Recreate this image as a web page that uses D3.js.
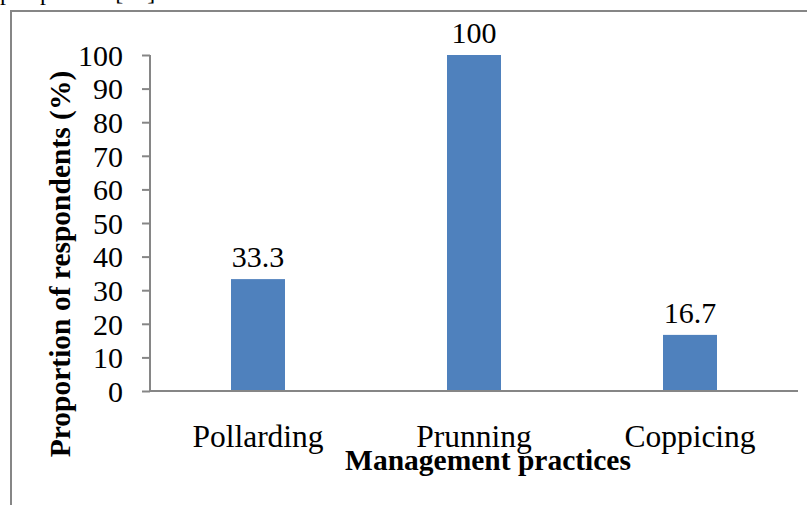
<!DOCTYPE html>
<html>
<head>
<meta charset="utf-8">
<script src="https://cdn.jsdelivr.net/npm/d3@7"></script>
<style>
  html, body { margin: 0; padding: 0; background: #fff; }
  svg { display: block; }
  text { font-family: "Liberation Serif", "Times New Roman", serif; fill: #000; }
</style>
</head>
<body>
<script>
// Management practices and share of respondents using each (%)
const categories = ["Pollarding", "Prunning", "Coppicing"];
const values = [33.3, 100, 16.7];
const valueLabels = ["33.3", "100", "16.7"];
const yTicks = [0, 10, 20, 30, 40, 50, 60, 70, 80, 90, 100];
const xTitle = "Management practices";
const yTitle = "Proportion of respondents (%)";

const W = 807, H = 505;
const plot = { left: 150, right: 798, top: 55, bottom: 391 };
const axisColor = "#868686";
const barColor = "#4f81bd";

const svg = d3.select("body").append("svg")
  .attr("width", W).attr("height", H);

// Caption line from the surrounding text, mostly cut off at the top edge
svg.append("text")
  .attr("x", 0).attr("y", 0)
  .style("font-size", "24px")
  .text("perspective [16].");

// Chart frame
svg.append("path")
  .attr("d", `M11,${H + 5} L11,11 L${W + 5},11`)
  .attr("fill", "none")
  .attr("stroke", axisColor)
  .attr("stroke-width", 2);

const x = d3.scaleBand()
  .domain(categories)
  .range([plot.left, plot.right])
  .paddingInner(0)
  .paddingOuter(0);

const y = d3.scaleLinear()
  .domain([0, 100])
  .range([plot.bottom, plot.top]);

const barW = x.bandwidth() * 0.25;

// Bars
svg.selectAll("rect.bar")
  .data(categories)
  .enter().append("rect")
  .attr("class", "bar")
  .attr("x", d => x(d) + (x.bandwidth() - barW) / 2)
  .attr("y", (d, i) => y(values[i]))
  .attr("width", barW)
  .attr("height", (d, i) => y(0) - y(values[i]))
  .attr("fill", barColor);

// Y axis
const yAxis = d3.axisLeft(y)
  .tickValues(yTicks)
  .tickSize(8)
  .tickPadding(19)
  .tickFormat(d3.format("d"));

const yG = svg.append("g")
  .attr("transform", `translate(${plot.left},0)`)
  .call(yAxis);
yG.select(".domain").attr("stroke", axisColor).attr("stroke-width", 2)
  .attr("d", `M0,${plot.top}V${plot.bottom}`);
yG.selectAll(".tick line").attr("stroke", axisColor).attr("stroke-width", 2);
yG.selectAll(".tick text")
  .style("font-family", "'Liberation Serif', 'Times New Roman', serif")
  .style("font-size", "30px")
  .attr("fill", "#000")
  .attr("dy", "0.34em");

// X axis
const xAxis = d3.axisBottom(x).tickSize(0).tickPadding(0);
const xG = svg.append("g")
  .attr("transform", `translate(0,${plot.bottom})`)
  .call(xAxis);
xG.select(".domain").attr("stroke", axisColor).attr("stroke-width", 2)
  .attr("d", `M${plot.left},0H${plot.right}`);
xG.selectAll(".tick text")
  .style("font-family", "'Liberation Serif', 'Times New Roman', serif")
  .style("font-size", "31.5px")
  .attr("fill", "#000")
  .attr("dy", null)
  .attr("y", 56);

// Value labels
svg.selectAll("text.val")
  .data(categories)
  .enter().append("text")
  .attr("class", "val")
  .attr("x", d => x(d) + x.bandwidth() / 2)
  .attr("y", (d, i) => y(values[i]) - 12)
  .attr("text-anchor", "middle")
  .style("font-size", "30px")
  .text((d, i) => valueLabels[i]);

// Axis titles
svg.append("text")
  .attr("x", 488).attr("y", 470)
  .attr("text-anchor", "middle")
  .style("font-size", "29.5px")
  .style("font-weight", "bold")
  .text(xTitle);

svg.append("text")
  .attr("transform", "translate(70,264) rotate(-90)")
  .attr("text-anchor", "middle")
  .style("font-size", "29.5px")
  .style("font-weight", "bold")
  .text(yTitle);
</script>
</body>
</html>
